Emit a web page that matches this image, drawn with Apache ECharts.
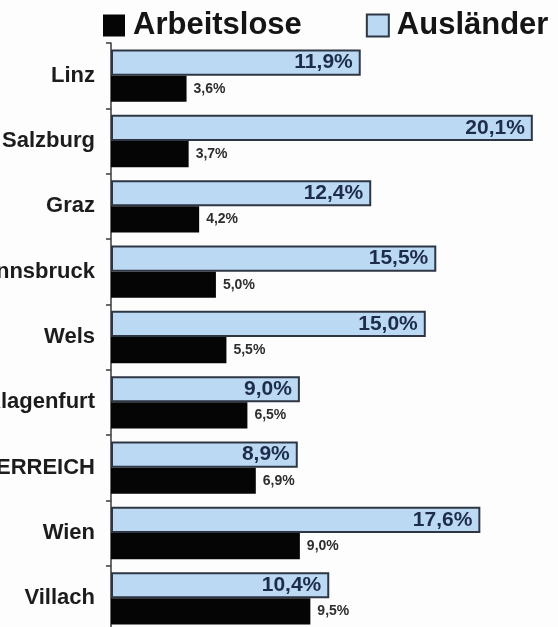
<!DOCTYPE html>
<html>
<head>
<meta charset="utf-8">
<script src="https://cdn.jsdelivr.net/npm/echarts@6/dist/echarts.min.js"></script>
<style>
html,body{margin:0;padding:0;background:#fdfdfd;}
#chart{width:558px;height:627px;}
</style>
</head>
<body>
<div id="chart"></div>
<script>
const categories = ['Linz', 'Salzburg', 'Graz', 'Innsbruck', 'Wels', 'Klagenfurt', 'ÖSTERREICH', 'Wien', 'Villach'];
const arbeitslose = [3.6, 3.7, 4.2, 5.0, 5.5, 6.5, 6.9, 9.0, 9.5];
const auslaender = [11.9, 20.1, 12.4, 15.5, 15.0, 9.0, 8.9, 17.6, 10.4];
const seriesNames = ['Arbeitslose', 'Ausländer'];

const fmt = p => p.value.toFixed(1).replace('.', ',') + '%';
const FONT = '"Liberation Sans", Arial, sans-serif';

const chart = echarts.init(document.getElementById('chart'), null, {renderer: 'canvas'});
chart.setOption({
  backgroundColor: '#fdfdfd',
  animation: false,
  legend: {
    data: seriesNames,
    left: 103,
    top: 10,
    padding: 0,
    itemWidth: 22,
    itemHeight: 22,
    itemGap: 64,
    icon: 'rect',
    textStyle: {fontFamily: FONT, fontSize: 31, fontWeight: 'bold', color: '#151515', padding: [0, 0, 0, 3]}
  },
  grid: {left: 111, right: 0, top: 43, bottom: -4, containLabel: false, outerBoundsMode: 'none'},
  xAxis: {type: 'value', min: 0, max: 21.3, show: false, splitLine: {show: false}},
  yAxis: {
    type: 'category',
    data: categories,
    inverse: true,
    axisLine: {show: true, lineStyle: {color: '#3a3a3a', width: 1.5}},
    axisTick: {show: true, length: 5, lineStyle: {color: '#3a3a3a', width: 1.5}},
    axisLabel: {fontFamily: FONT, fontSize: 22, fontWeight: 'bold', color: '#1c1c1c', margin: 16}
  },
  series: [
    {
      name: seriesNames[1],
      type: 'bar',
      data: auslaender,
      barCategoryGap: '20%',
      barGap: '0%',
      itemStyle: {color: '#bcd9f4', borderColor: '#2e3644', borderWidth: 2},
      label: {show: true, position: 'insideRight', distance: 8, formatter: fmt,
        fontFamily: FONT, fontSize: 21, fontWeight: 'bold', color: '#1d2c48'}
    },
    {
      name: seriesNames[0],
      type: 'bar',
      data: arbeitslose,
      barCategoryGap: '20%',
      barGap: '0%',
      itemStyle: {color: '#050505'},
      label: {show: true, position: 'right', distance: 7, formatter: fmt,
        fontFamily: FONT, fontSize: 14, fontWeight: 'bold', color: '#2e2e2e'}
    }
  ]
});
</script>
</body>
</html>
